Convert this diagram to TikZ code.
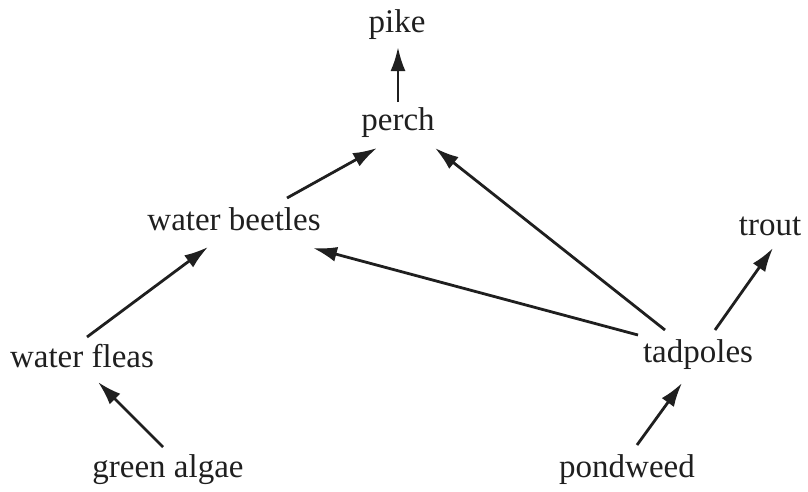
\documentclass[tikz,border=0pt]{standalone}
\usepackage{fontspec}
\setmainfont{Liberation Serif}
\usetikzlibrary{arrows.meta}
\begin{document}
\begin{tikzpicture}[x=1pt,y=-1pt,
  lbl/.style={anchor=base,inner sep=0pt,font=\fontsize{33}{38}\selectfont,text=black!88},
  arr/.style={line width=2.8pt,draw=black!88,-{Latex[length=24pt,width=15pt]}}]
\useasboundingbox (0,0) rectangle (808,491);
\node[lbl] (pike) at (397,32) {pike};
\node[lbl] (perch) at (398,130) {perch};
\node[lbl] (beetles) at (234,230) {water beetles};
\node[lbl] (trout) at (770,235) {trout};
\node[lbl] (fleas) at (82,367) {water fleas};
\node[lbl] (tadpoles) at (698,362) {tadpoles};
\node[lbl] (algae) at (168,477) {green algae};
\node[lbl] (pondweed) at (627,477) {pondweed};
\draw[arr] ([shift={(0,-28)}]perch.base) -- ([shift={(1,15)}]pike.base);
\draw[arr] ([shift={(53,-32)}]beetles.base) -- ([shift={(-21,18)}]perch.base);
\draw[arr] ([shift={(-33,-32)}]tadpoles.base) -- ([shift={(37,18)}]perch.base);
\draw[arr] ([shift={(-60,-27)}]tadpoles.base) -- ([shift={(79,18)}]beetles.base);
\draw[arr] ([shift={(17,-32)}]tadpoles.base) -- ([shift={(3,13)}]trout.base);
\draw[arr] ([shift={(5,-30)}]fleas.base) -- ([shift={(-26,17)}]beetles.base);
\draw[arr] ([shift={(-5,-30)}]algae.base) -- ([shift={(16,15)}]fleas.base);
\draw[arr] ([shift={(10,-32)}]pondweed.base) -- ([shift={(-16,21)}]tadpoles.base);
\end{tikzpicture}
\end{document}
